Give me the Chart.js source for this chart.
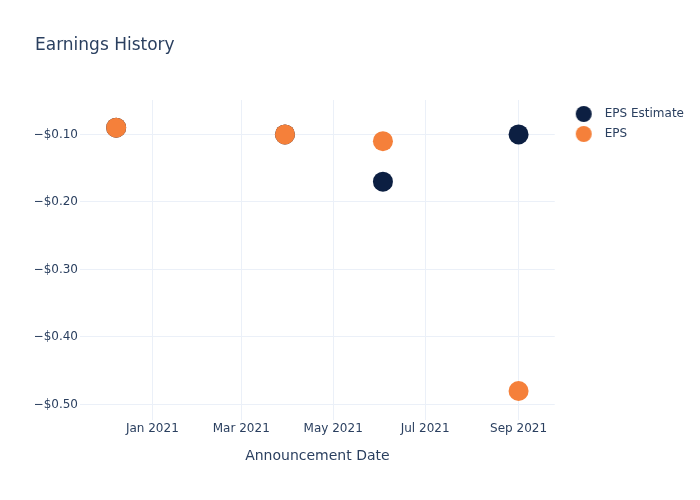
<!DOCTYPE html>
<html><head><meta charset="utf-8">
<script src="https://cdn.jsdelivr.net/npm/chart.js@4/dist/chart.umd.min.js"></script>
<style>html,body{margin:0;padding:0;background:#fff}</style>
</head><body>
<canvas id="c" width="700" height="500"></canvas>
<script>
// ---- data ----
const announcementDates = ['2020-12-08', '2021-03-30', '2021-06-03', '2021-09-01'];
const epsEstimate = [-0.09, -0.10, -0.17, -0.10];
const epsActual = [-0.09, -0.10, -0.11, -0.48];
const xTickDates = ['2021-01-01', '2021-03-01', '2021-05-01', '2021-07-01', '2021-09-01'];
const xTickLabels = ['Jan 2021', 'Mar 2021', 'May 2021', 'Jul 2021', 'Sep 2021'];
const yTickValues = [-0.5, -0.4, -0.3, -0.2, -0.1];
const xRange = ['2020-11-14', '2021-09-25'];
const yRange = [-0.523, -0.049];
const seriesNames = ['EPS Estimate', 'EPS'];
const seriesColors = ['#0c1f42', '#f5803a'];

const ms = s => Date.parse(s + 'T00:00:00Z');
const TXT = '#2a3f5f';
const GRID = '#ebf0f8';

function fmtUsd(v) {
  const s = '$' + Math.abs(v).toFixed(2);
  return v < 0 ? '\u2212' + s : s;
}

function legendDot(color) {
  const c = document.createElement('canvas');
  c.width = 40; c.height = 18;
  const g = c.getContext('2d');
  g.fillStyle = color;
  g.beginPath(); g.arc(23, 9, 8, 0, Math.PI * 2); g.fill();
  return c;
}
const legendDots = seriesColors.map(legendDot);

Chart.defaults.font.family = '"DejaVu Sans", sans-serif';
Chart.defaults.color = TXT;

new Chart(document.getElementById('c'), {
  type: 'scatter',
  data: {
    datasets: [
      {
        label: seriesNames[0],
        data: announcementDates.map((d, i) => ({x: ms(d), y: epsEstimate[i]})),
        backgroundColor: seriesColors[0], borderWidth: 0,
        pointRadius: 10, pointHoverRadius: 10, order: 1
      },
      {
        label: seriesNames[1],
        data: announcementDates.map((d, i) => ({x: ms(d), y: epsActual[i]})),
        backgroundColor: seriesColors[1], borderWidth: 0,
        pointRadius: 10, pointHoverRadius: 10, order: 0
      }
    ]
  },
  options: {
    responsive: false,
    animation: false,
    events: [],
    layout: {padding: {left: 35, right: 6, top: 0, bottom: 0}},
    plugins: {
      tooltip: {enabled: false},
      title: {
        display: true, text: 'Earnings History', align: 'start',
        color: TXT, font: {size: 17, weight: 'normal'},
        padding: {top: 35, bottom: 44.6}
      },
      legend: {
        display: true, position: 'right', align: 'start', fullSize: false,
        labels: {
          usePointStyle: true, pointStyleWidth: 36, padding: 8,
          color: TXT, font: {size: 12},
          sort: (a, b) => a.datasetIndex - b.datasetIndex,
          generateLabels: chart => {
            const items = Chart.defaults.plugins.legend.labels.generateLabels(chart);
            items.forEach(it => { it.pointStyle = legendDots[it.datasetIndex]; });
            return items;
          }
        }
      }
    },
    scales: {
      x: {
        type: 'linear',
        min: ms(xRange[0]), max: ms(xRange[1]),
        afterBuildTicks: s => { s.ticks = xTickDates.map(d => ({value: ms(d)})); },
        afterFit: s => { s.height = 80; },
        grid: {color: GRID, drawTicks: false, lineWidth: 1},
        border: {display: false},
        ticks: {
          autoSkip: false, maxRotation: 0, padding: 2, color: TXT, font: {size: 12},
          callback: (v, i) => xTickLabels[i]
        },
        title: {
          display: true, text: 'Announcement Date', color: TXT,
          font: {size: 14}, padding: {top: 0, bottom: 35.6}
        }
      },
      y: {
        type: 'linear',
        min: yRange[0], max: yRange[1],
        afterBuildTicks: s => { s.ticks = yTickValues.map(v => ({value: v})); },
        afterFit: s => { s.width = 45; },
        grid: {color: GRID, drawTicks: false, lineWidth: 1},
        border: {display: false},
        ticks: {
          padding: 2, color: TXT, font: {size: 12},
          callback: v => fmtUsd(v)
        }
      }
    }
  }
});
</script>
</body></html>
